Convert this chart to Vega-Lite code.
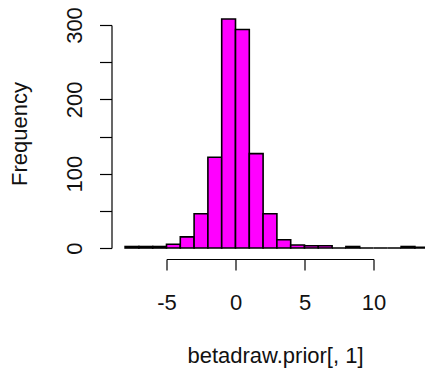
{
  "$schema": "https://vega.github.io/schema/vega-lite/v6.json",
  "autosize": {"type": "none"},
  "width": 207,
  "height": 223,
  "padding": {"left": 166.5, "top": 25, "right": 51.5, "bottom": 125},
  "background": "white",
  "config": {
    "view": {"stroke": null},
    "font": "Liberation Sans",
    "axis": {
      "grid": false,
      "domainColor": "black",
      "tickColor": "black",
      "labelColor": "#111111",
      "titleColor": "#111111",
      "domainWidth": 1.2,
      "tickWidth": 1.2,
      "labelFont": "Liberation Sans",
      "titleFont": "Liberation Sans",
      "labelFontWeight": "normal",
      "titleFontWeight": "normal"
    }
  },
  "data": {
    "values": [
      {"start": -8, "end": -7, "count": 2},
      {"start": -7, "end": -6, "count": 2},
      {"start": -6, "end": -5, "count": 2},
      {"start": -5, "end": -4, "count": 5},
      {"start": -4, "end": -3, "count": 15},
      {"start": -3, "end": -2, "count": 46},
      {"start": -2, "end": -1, "count": 122},
      {"start": -1, "end": 0, "count": 308},
      {"start": 0, "end": 1, "count": 294},
      {"start": 1, "end": 2, "count": 127},
      {"start": 2, "end": 3, "count": 46},
      {"start": 3, "end": 4, "count": 11},
      {"start": 4, "end": 5, "count": 4},
      {"start": 5, "end": 6, "count": 3},
      {"start": 6, "end": 7, "count": 3},
      {"start": 7, "end": 8, "count": 0},
      {"start": 8, "end": 9, "count": 2},
      {"start": 9, "end": 10, "count": 0},
      {"start": 10, "end": 11, "count": 0},
      {"start": 11, "end": 12, "count": 0},
      {"start": 12, "end": 13, "count": 2},
      {"start": 13, "end": 14, "count": 1}
    ]
  },
  "mark": {"type": "rect", "fill": "#FF00FF", "stroke": "black", "strokeWidth": 1.6},
  "encoding": {
    "x": {
      "field": "start",
      "type": "quantitative",
      "scale": {"domain": [-5, 10], "nice": false, "zero": false},
      "axis": {
        "values": [-5, 0, 5, 10],
        "labelExpr": "datum.value < 0 ? '-' + abs(datum.value) : '' + datum.value",
        "offset": 11,
        "tickSize": 11,
        "labelFontSize": 22,
        "labelBaseline": "alphabetic",
        "labelPadding": 39,
        "labelFlush": false,
        "labelOverlap": false,
        "title": "betadraw.prior[, 1]",
        "titleFontSize": 22,
        "titleBaseline": "alphabetic",
        "titleX": 108.5,
        "titleY": 103
      }
    },
    "x2": {"field": "end"},
    "y": {
      "field": "count",
      "type": "quantitative",
      "scale": {"domain": [0, 300], "nice": false, "zero": true},
      "axis": {
        "values": [0, 50, 100, 150, 200, 250, 300],
        "labelExpr": "datum.value % 100 === 0 ? datum.label : ''",
        "offset": 55,
        "tickSize": 12,
        "labelFontSize": 22,
        "labelAngle": -90,
        "labelAlign": "center",
        "labelBaseline": "middle",
        "labelPadding": 25,
        "labelFlush": false,
        "labelOverlap": false,
        "title": "Frequency",
        "titleFontSize": 22,
        "titleAngle": -90,
        "titleAlign": "center",
        "titleBaseline": "middle",
        "titleX": -92,
        "titleY": 108.5
      }
    },
    "y2": {"datum": 0}
  }
}
